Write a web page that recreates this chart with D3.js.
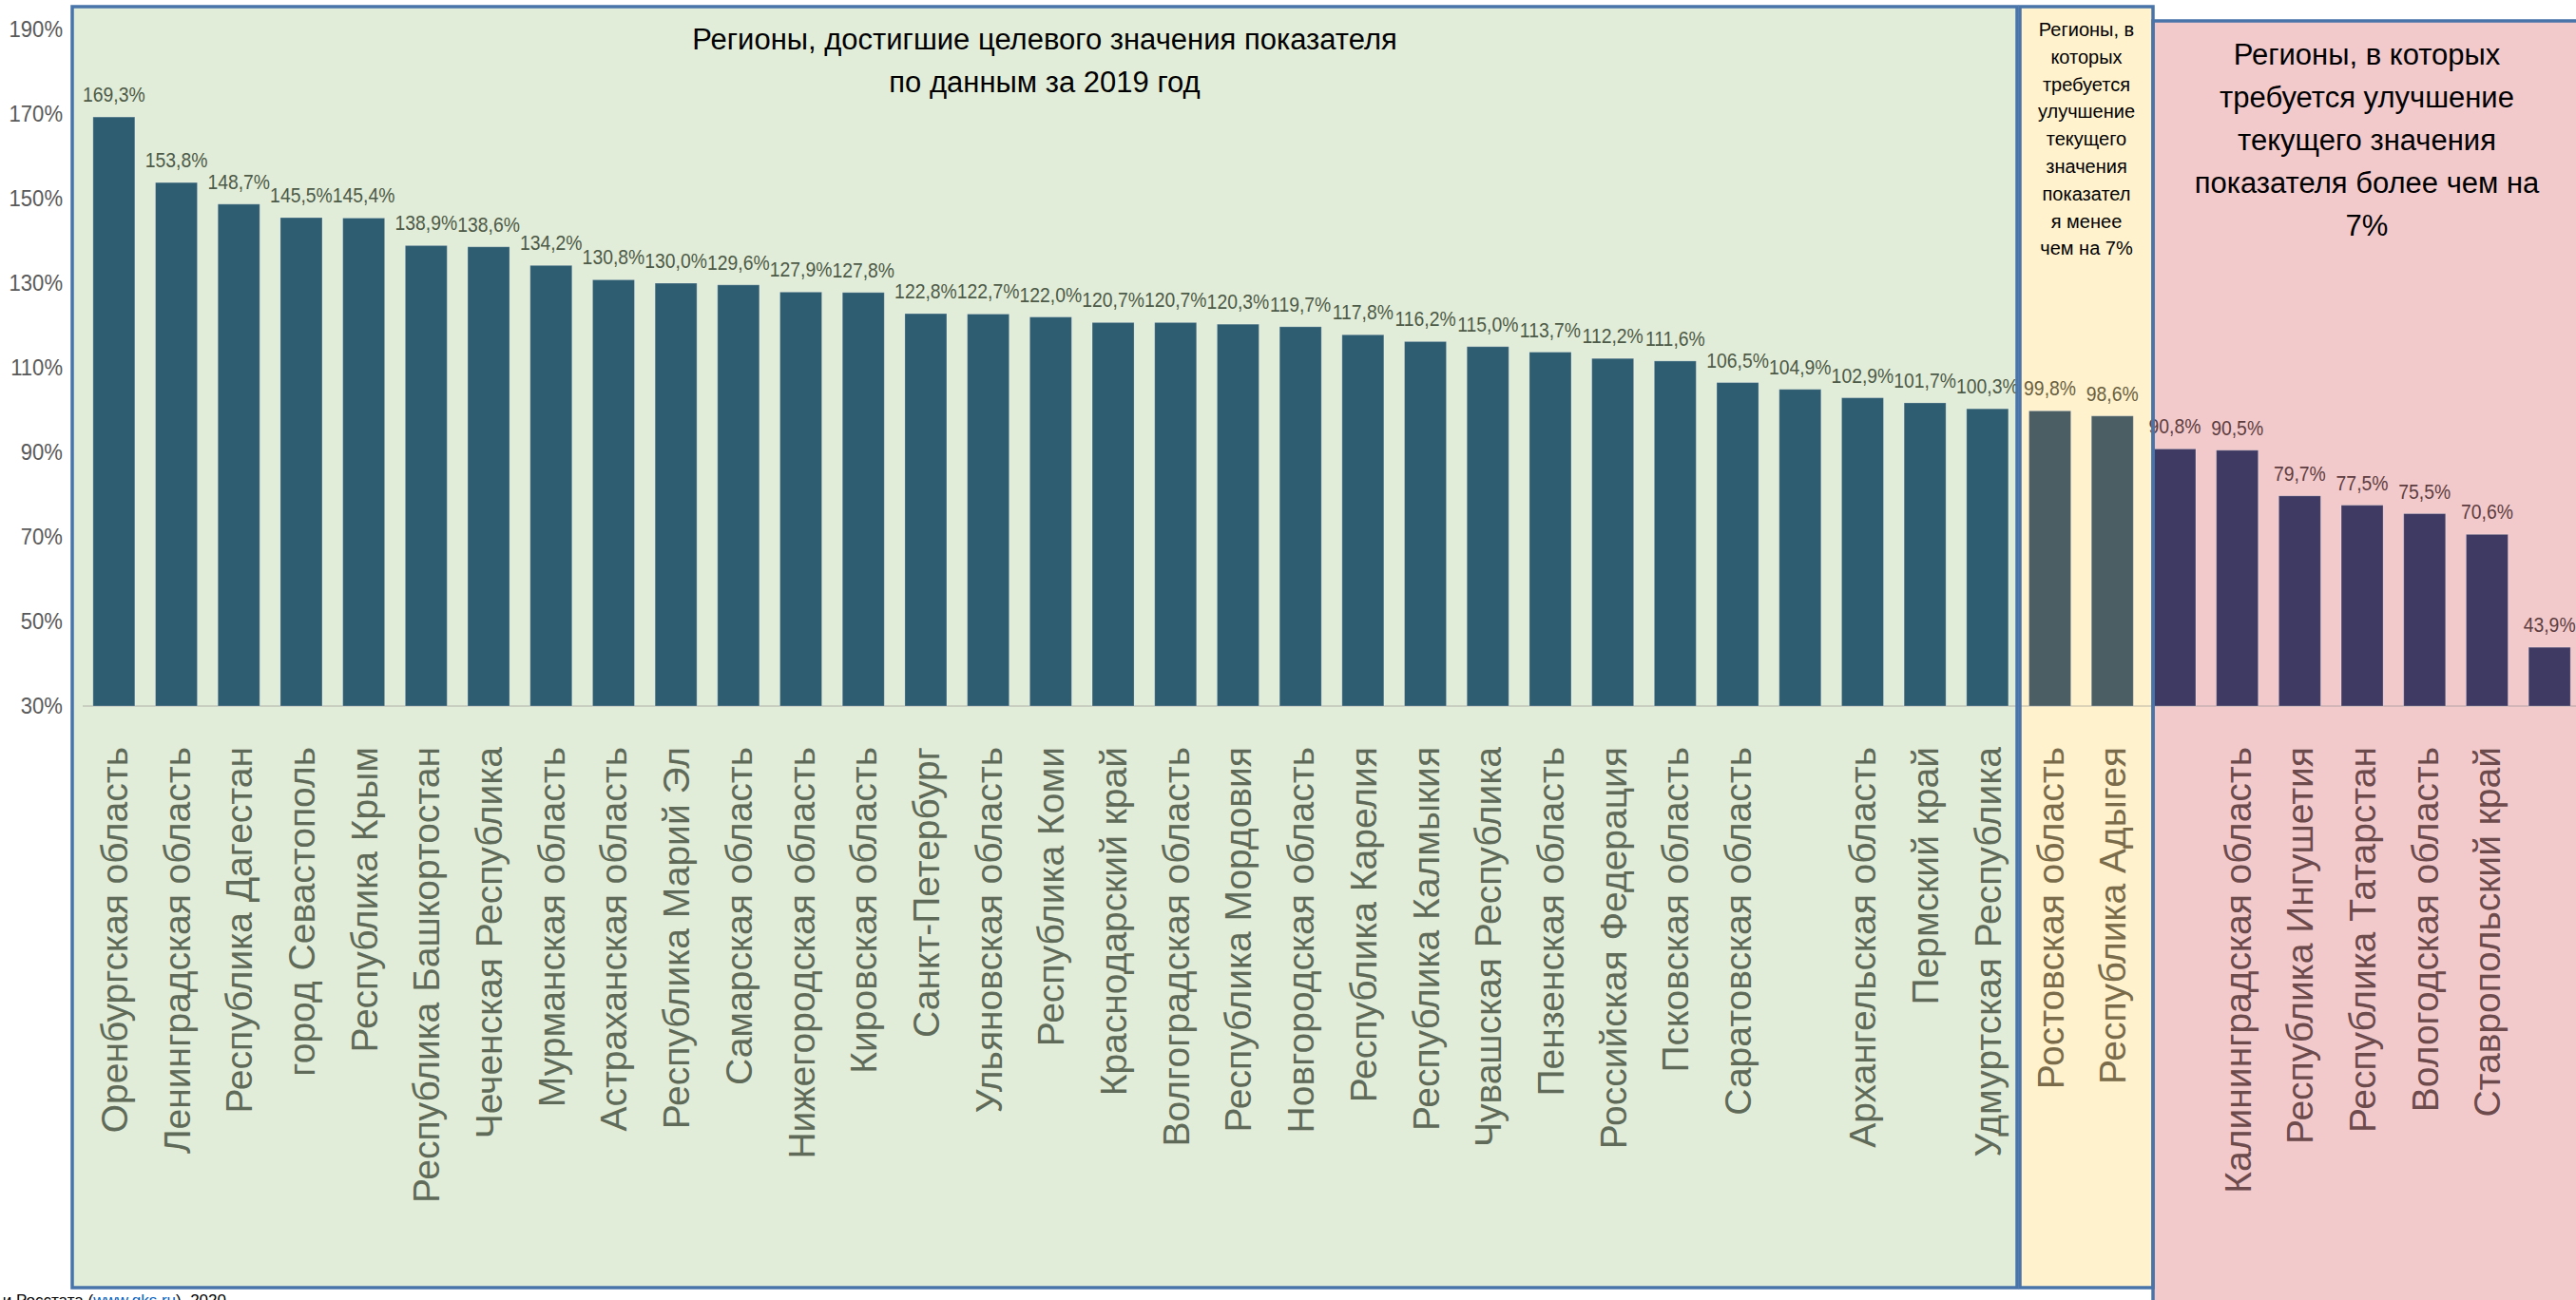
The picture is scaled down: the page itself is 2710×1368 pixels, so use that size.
<!DOCTYPE html>
<html>
<head>
<meta charset="utf-8">
<script src="https://cdn.jsdelivr.net/npm/d3@7"></script>
<style>
  html, body { margin: 0; padding: 0; background: #ffffff; }
  svg { display: block; font-family: "Liberation Sans", Arial, sans-serif; }
</style>
</head>
<body>
<svg id="chart" width="2710" height="1368"></svg>
<script>
// Regions, ordered by value; empty names are unlabelled bars
const categories = [
  "Оренбургская область", "Ленинградская область", "Республика Дагестан",
  "город Севастополь", "Республика Крым", "Республика Башкортостан",
  "Чеченская Республика", "Мурманская область", "Астраханская область",
  "Республика Марий Эл", "Самарская область", "Нижегородская область",
  "Кировская область", "Санкт-Петербург", "Ульяновская область",
  "Республика Коми", "Краснодарский край", "Волгоградская область",
  "Республика Мордовия", "Новгородская область", "Республика Карелия",
  "Республика Калмыкия", "Чувашская Республика", "Пензенская область",
  "Российская Федерация", "Псковская область", "Саратовская область",
  "", "Архангельская область", "Пермский край", "Удмуртская Республика",
  "Ростовская область", "Республика Адыгея",
  "", "Калининградская область", "Республика Ингушетия", "Республика Татарстан",
  "Вологодская область", "Ставропольский край", ""
];

// Indicator value, % of the target
const values = [
  169.3, 153.8, 148.7, 145.5, 145.4, 138.9, 138.6, 134.2, 130.8, 130.0,
  129.6, 127.9, 127.8, 122.8, 122.7, 122.0, 120.7, 120.7, 120.3, 119.7,
  117.8, 116.2, 115.0, 113.7, 112.2, 111.6, 106.5, 104.9, 102.9, 101.7,
  100.3,
  99.8, 98.6,
  90.8, 90.5, 79.7, 77.5, 75.5, 70.6, 43.9
];

// Number of bars in each group, left to right
const groupSizes = [31, 2, 7];
const groupKeys = ["achieved", "near", "below"];

// Y axis tick values
const yTicks = [30, 50, 70, 90, 110, 130, 150, 170, 190];

// Group titles
const titleAchieved = ["Регионы, достигшие целевого значения показателя", "по данным за 2019 год"];
const titleNear = ["Регионы, в", "которых", "требуется", "улучшение", "текущего", "значения", "показател", "я менее", "чем на 7%"];
const titleBelow = ["Регионы, в которых", "требуется улучшение", "текущего значения", "показателя более чем на", "7%"];

const style = {
  achieved: { panel: "#E2EDD9", bar: "#2E5C71", value: "#4D5A47", label: "#5F6B58" },
  near:     { panel: "#FFF2CD", bar: "#4A5E64", value: "#6A5F3F", label: "#7A6C4A" },
  below:    { panel: "#F2CACC", bar: "#3E3A63", value: "#5E3D40", label: "#6D4B4D" }
};
const borderColor = "#4874AA";

// Horizontal squeeze used for the condensed number labels
const narrow = 0.88;

const groupOf = [];
groupSizes.forEach((n, gi) => { for (let i = 0; i < n; i++) groupOf.push(groupKeys[gi]); });

const data = values.map((v, i) => ({ i, name: categories[i], value: v, group: groupOf[i] }));

const svg = d3.select("#chart");

const x = d3.scaleBand()
  .domain(d3.range(values.length))
  .range([87, 2715])
  .paddingInner(0.33)
  .paddingOuter(0.165);

const y = d3.scaleLinear().domain([30, 190]).range([743, 31]);

// Panels behind the chart
const panels = [
  { key: "achieved", x0: 76, x1: 2122, y0: 7, y1: 1355 },
  { key: "near", x0: 2125, x1: 2265, y0: 7, y1: 1355 },
  { key: "below", x0: 2265, x1: 2740, y0: 22, y1: 1400 }
];

svg.append("g").selectAll("rect")
  .data(panels)
  .join("rect")
  .attr("x", d => d.x0).attr("y", d => d.y0)
  .attr("width", d => d.x1 - d.x0).attr("height", d => d.y1 - d.y0)
  .attr("fill", d => style[d.key].panel);

// Y axis (labels only)
const yAxis = svg.append("g")
  .attr("transform", "translate(70,0)")
  .call(d3.axisLeft(y).tickValues(yTicks).tickSize(0).tickPadding(4).tickFormat(d => d + "%"));
yAxis.select(".domain").remove();
yAxis.selectAll("text")
  .attr("font-size", 24)
  .attr("font-family", "Liberation Sans, Arial, sans-serif")
  .attr("fill", "#595959")
  .attr("x", -4 / 0.92)
  .attr("transform", "scale(0.92,1)");

// Base line
svg.append("line")
  .attr("x1", 87).attr("x2", 2710)
  .attr("y1", y(30)).attr("y2", y(30))
  .attr("stroke", "#8a8a8a").attr("stroke-opacity", 0.3).attr("stroke-width", 2);

// Bars
svg.append("g").selectAll("rect")
  .data(data)
  .join("rect")
  .attr("x", d => x(d.i))
  .attr("y", d => y(d.value))
  .attr("width", x.bandwidth())
  .attr("height", d => y(30) - y(d.value))
  .attr("fill", d => style[d.group].bar)
  .attr("stroke", "#ffffff").attr("stroke-opacity", 0.25).attr("stroke-width", 1);

// Value labels
svg.append("g").selectAll("text")
  .data(data)
  .join("text")
  .attr("transform", d => `translate(${x(d.i) + x.bandwidth() / 2},${y(d.value) - 16}) scale(${narrow},1)`)
  .attr("text-anchor", "middle")
  .attr("font-size", 22)
  .attr("fill", d => style[d.group].value)
  .text(d => d3.format(".1f")(d.value).replace(".", ",") + "%");

// Category labels, rotated
svg.append("g").selectAll("text")
  .data(data.filter(d => d.name))
  .join("text")
  .attr("transform", d => `translate(${x(d.i) + x.bandwidth() / 2},786) rotate(-90)`)
  .attr("text-anchor", "end")
  .attr("dy", "0.36em")
  .attr("font-size", 39)
  .attr("fill", d => style[d.group].label)
  .text(d => d.name);

// Panel borders on top
svg.append("g").selectAll("rect")
  .data(panels)
  .join("rect")
  .attr("x", d => d.x0).attr("y", d => d.y0)
  .attr("width", d => d.x1 - d.x0).attr("height", d => d.y1 - d.y0)
  .attr("fill", "none")
  .attr("stroke", borderColor).attr("stroke-width", 3.5);

// Group titles
function title(lines, cx, y0, dy, size) {
  svg.append("text")
    .attr("text-anchor", "middle")
    .attr("font-size", size)
    .attr("fill", "#000000")
    .selectAll("tspan")
    .data(lines)
    .join("tspan")
    .attr("x", cx)
    .attr("y", (d, i) => y0 + i * dy)
    .text(d => d);
}
title(titleAchieved, 1099, 52, 45, 31);
title(titleNear, 2195, 38, 28.8, 20);
title(titleBelow, 2490, 68, 45, 31);

// Source note
const note = svg.append("text")
  .attr("x", 238).attr("y", 1374)
  .attr("text-anchor", "end")
  .attr("font-size", 17)
  .attr("fill", "#000000");
note.append("tspan").text("и Росстата (");
note.append("tspan").attr("fill", "#0563C1").attr("text-decoration", "underline").text("www.gks.ru");
note.append("tspan").text("), 2020");
</script>
</body>
</html>
